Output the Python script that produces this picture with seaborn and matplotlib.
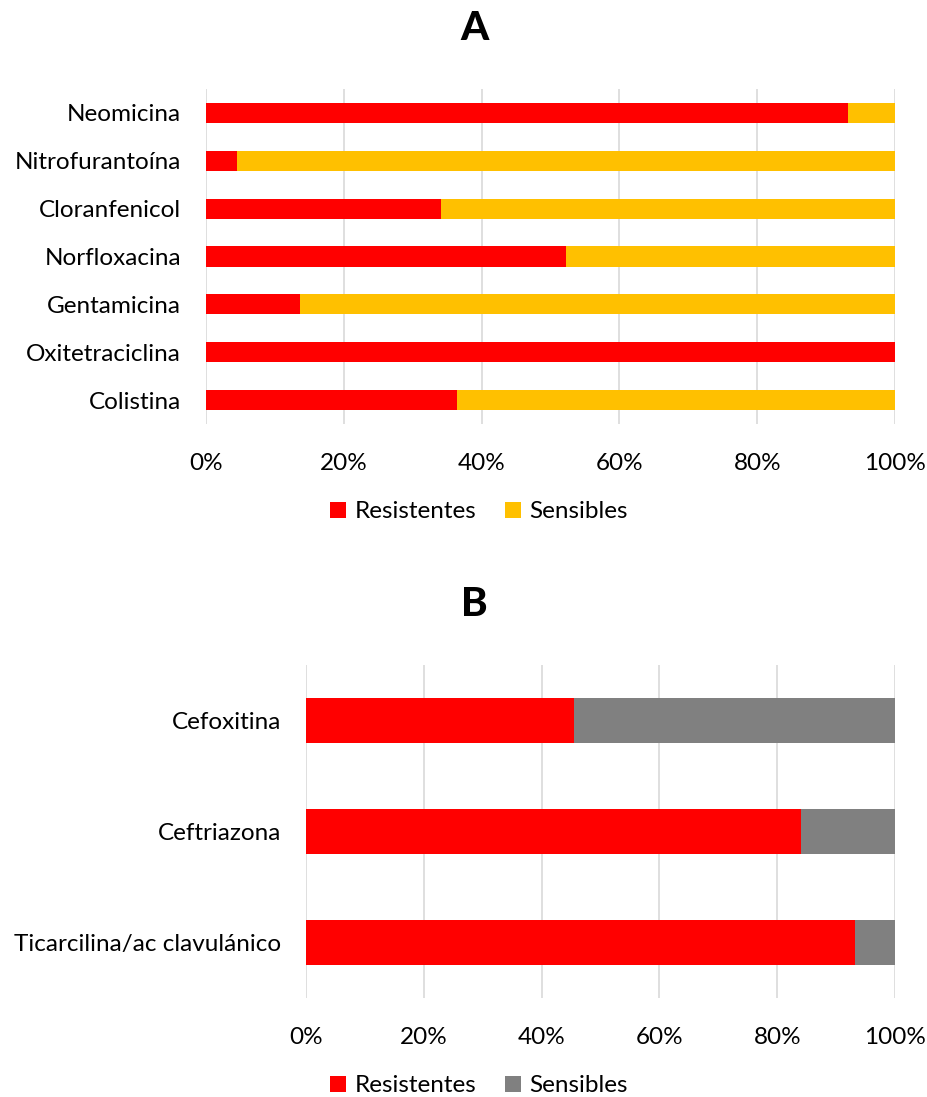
import numpy as np
import pandas as pd
import matplotlib
matplotlib.use("Agg")
import matplotlib.pyplot as plt
from matplotlib.patches import Patch
from matplotlib.ticker import PercentFormatter
import seaborn as sns

# ---- data ----
drugs_a = ["Neomicina", "Nitrofurantoína", "Cloranfenicol", "Norfloxacina",
           "Gentamicina", "Oxitetraciclina", "Colistina"]
res_a = [93.18, 4.55, 34.09, 52.27, 13.64, 100.0, 36.36]
sen_a = [6.82, 95.45, 65.91, 47.73, 86.36, 0.0, 63.64]

drugs_b = ["Cefoxitina", "Ceftriazona", "Ticarcilina/ac clavulánico"]
res_b = [45.45, 84.09, 93.18]
sen_b = [54.55, 15.91, 6.82]

x_ticks = [0, 20, 40, 60, 80, 100]
series_names = ["Resistentes", "Sensibles"]

RED = "#FF0000"
YELLOW = "#FFC000"
GRAY = "#808080"
GRID = "#D9D9D9"

sns.set_theme(style="white")
plt.rcParams["font.family"] = ["Lato", "DejaVu Sans"]
plt.rcParams["text.color"] = "black"
plt.rcParams["xtick.color"] = "black"
plt.rcParams["ytick.color"] = "black"
plt.rcParams["axes.labelcolor"] = "black"

FS = 17.5

fig = plt.figure(figsize=(9.28, 10.97), dpi=100)

W, H = 928, 1097


def ax_rect(x0, y0, x1, y1):
    return [x0 / W, 1 - y1 / H, (x1 - x0) / W, (y1 - y0) / H]


def panel(ax, drugs, res, sen, other_color, bar_h, title, title_y):
    df = pd.DataFrame({"drug": drugs,
                       "total": np.array(res) + np.array(sen),
                       "res": res})
    sns.barplot(data=df, y="drug", x="total", color=other_color, width=bar_h,
                orient="h", ax=ax, saturation=1, order=drugs)
    sns.barplot(data=df, y="drug", x="res", color=RED, width=bar_h,
                orient="h", ax=ax, saturation=1, order=drugs)
    ax.set_xlim(0, 100)
    ax.set_ylim(len(drugs) - 0.5, -0.5)
    ax.set_xticks(x_ticks)
    ax.xaxis.set_major_formatter(PercentFormatter(decimals=0))
    ax.set_xlabel("")
    ax.set_ylabel("")
    for s in ax.spines.values():
        s.set_visible(False)
    ax.grid(False)
    for t in x_ticks:
        ax.axvline(t, color=GRID, lw=1.2, zorder=0)
    ax.set_axisbelow(True)
    ax.tick_params(axis="both", length=0, labelsize=FS, colors="#000000")
    ax.tick_params(axis="x", pad=21)
    ax.tick_params(axis="y", pad=18)
    for p in ax.patches:
        p.set_edgecolor("none")
    fig.text(474 / W, title_y, title, color="black",
             fontsize=29, fontweight="black", ha="center", va="center")
    handles = [Patch(facecolor=RED, edgecolor="none"),
               Patch(facecolor=other_color, edgecolor="none")]
    return handles


ax_a = fig.add_axes(ax_rect(206, 89, 895, 424))
h_a = panel(ax_a, drugs_a, res_a, sen_a, YELLOW, 0.42, "A", 1 - 28 / H)
fig.legend(h_a, series_names, loc="center", bbox_to_anchor=(479 / W, 1 - 512 / H),
           ncol=2, frameon=False, fontsize=FS, handlelength=0.65, handleheight=0.65,
           handletextpad=0.35, columnspacing=1.2)

ax_b = fig.add_axes(ax_rect(306, 665, 895, 998))
h_b = panel(ax_b, drugs_b, res_b, sen_b, GRAY, 0.40, "B", 1 - 604 / H)
fig.legend(h_b, series_names, loc="center", bbox_to_anchor=(479 / W, 1 - 1086 / H),
           ncol=2, frameon=False, fontsize=FS, handlelength=0.65, handleheight=0.65,
           handletextpad=0.35, columnspacing=1.2)

fig.savefig("out.png", dpi=100, facecolor="white")
